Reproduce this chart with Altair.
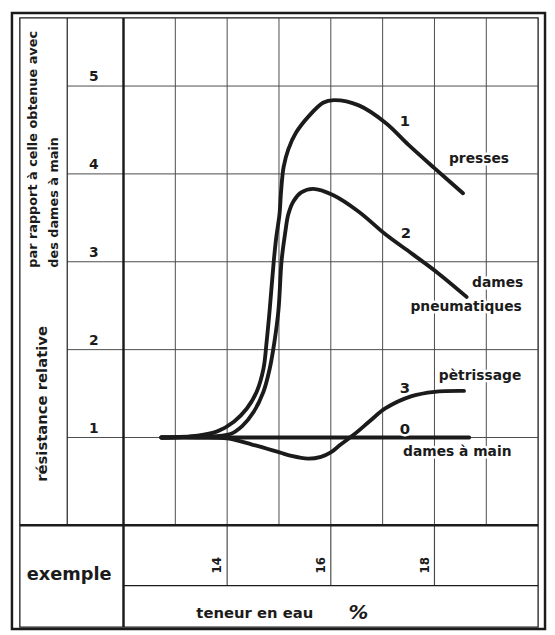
import altair as alt
import pandas as pd

# ---- data (x: teneur en eau %, y: résistance relative) ----
presses_x = [12.73, 13.43, 13.81, 14.13, 14.38, 14.57, 14.70, 14.76, 14.82, 14.90, 14.95, 15.01,
             15.04, 15.09, 15.18, 15.33, 15.58, 15.85, 16.06, 16.54, 17.06, 17.50, 18.01, 18.55]
presses_y = [1.0, 1.02, 1.07, 1.18, 1.33, 1.52, 1.78, 2.08, 2.45, 3.01, 3.29, 3.54,
             3.80, 4.08, 4.28, 4.47, 4.66, 4.81, 4.84, 4.78, 4.58, 4.33, 4.06, 3.78]

pneum_x = [12.73, 13.50, 14.06, 14.29, 14.51, 14.70, 14.82, 14.91, 14.99, 15.05, 15.12,
           15.18, 15.28, 15.43, 15.66, 16.04, 16.54, 17.06, 17.57, 18.07, 18.62]
pneum_y = [1.0, 1.01, 1.04, 1.13, 1.29, 1.52, 1.78, 2.08, 2.45, 3.01, 3.33,
           3.54, 3.69, 3.79, 3.83, 3.76, 3.57, 3.31, 3.09, 2.87, 2.60]

petr_x = [12.73, 13.43, 14.0, 14.48, 15.01, 15.24, 15.56, 15.81, 16.0, 16.19, 16.44, 16.76,
          17.05, 17.56, 18.0, 18.57]
petr_y = [1.0, 1.0, 0.99, 0.92, 0.83, 0.79, 0.76, 0.78, 0.83, 0.92, 1.03, 1.19,
          1.33, 1.47, 1.52, 1.53]

main_x = [12.73, 18.67]
main_y = [1.0, 1.0]

grid_x = [13, 14, 15, 16, 17, 18, 19]
tick_x = [14, 16, 18]
grid_y = [1, 2, 3, 4, 5]

num_text = ["1", "2", "3", "0"]
num_x = [17.43, 17.45, 17.43, 17.43]
num_y = [4.60, 3.33, 1.56, 1.10]

word_text = ["presses", "dames", "pneumatiques", "pètrissage", "dames à main"]
word_x = [18.86, 19.22, 18.61, 18.88, 18.44]
word_y = [4.17, 2.76, 2.48, 1.70, 0.83]

# ---- layout / style ----
W, H = 420, 514
FONT = "DejaVu Sans"
INK = "#1b1b1b"
GRID = "#4a4a4a"

xs = alt.Scale(domain=[12, 20], nice=False, zero=False)
ys = alt.Scale(domain=[0, 5.775], nice=False, zero=True)

rows = []
for name, xv, yv in [("presses", presses_x, presses_y), ("pneumatiques", pneum_x, pneum_y),
                     ("petrissage", petr_x, petr_y), ("main", main_x, main_y)]:
    for i, (a, b) in enumerate(zip(xv, yv)):
        rows.append({"courbe": name, "x": a, "y": b, "i": i})
curves_df = pd.DataFrame(rows)

one = alt.Data(values=[{"k": 1}])
X = lambda: alt.X("x:Q", scale=xs, axis=None)
Y = lambda: alt.Y("y:Q", scale=ys, axis=None)


def box(x1, x2, y1, y2, sw):
    return alt.Chart(one).mark_rect(fillOpacity=0, stroke=INK, strokeWidth=sw).encode(
        x=alt.value(x1), x2=alt.value(x2), y=alt.value(y1), y2=alt.value(y2))


def hline(x1, x2, y, sw, color=INK):
    return alt.Chart(one).mark_rule(color=color, strokeWidth=sw).encode(
        x=alt.value(x1), x2=alt.value(x2), y=alt.value(y))


def vline(x, y1, y2, sw, color=INK):
    return alt.Chart(one).mark_rule(color=color, strokeWidth=sw).encode(
        x=alt.value(x), y=alt.value(y1), y2=alt.value(y2))


def label(text, x, y, size, angle=0, align="center", baseline="middle", style="normal"):
    return alt.Chart(alt.Data(values=[{"t": text}])).mark_text(
        font=FONT, fontSize=size, fontWeight="bold", fontStyle=style, color=INK,
        angle=angle, align=align, baseline=baseline).encode(
        x=alt.value(x), y=alt.value(y), text="t:N")


vgrid = alt.Chart(pd.DataFrame({"x": grid_x})).mark_rule(color=GRID, strokeWidth=1).encode(
    x=X(), y=alt.value(0), y2=alt.value(H))
vext = alt.Chart(pd.DataFrame({"x": tick_x})).mark_rule(color=GRID, strokeWidth=1.2).encode(
    x=X(), y=alt.value(H), y2=alt.value(575))
hgrid = alt.Chart(pd.DataFrame({"y": grid_y})).mark_rule(color=GRID, strokeWidth=1).encode(
    y=Y(), x=alt.value(-57), x2=alt.value(W))

# tick labels (positioned through the scales)
ytick_labels = alt.Chart(pd.DataFrame({"y": grid_y})).mark_text(
    font=FONT, fontSize=14, fontWeight="bold", color=INK, align="center", baseline="middle", dy=-9).encode(
    y=Y(), x=alt.value(-30), text="y:Q")
xtick_labels = alt.Chart(pd.DataFrame({"x": tick_x})).mark_text(
    font=FONT, fontSize=12, fontWeight="bold", color=INK, angle=270, align="right",
    baseline="middle", dy=-10).encode(
    x=X(), y=alt.value(546), text="x:Q")

curves = alt.Chart(curves_df).mark_line(interpolate="catmull-rom", strokeWidth=3.9, color=INK,
                                        strokeCap="round", strokeJoin="round").encode(
    x=X(), y=Y(), detail="courbe:N", order="i:Q")

num_df = pd.DataFrame({"x": num_x, "y": num_y, "t": num_text})
word_df = pd.DataFrame({"x": word_x, "y": word_y, "t": word_text})


def curve_labels(df, size):
    halo = alt.Chart(df).mark_text(font=FONT, fontSize=size, fontWeight="bold", color="white",
                                   stroke="white", strokeWidth=5, strokeJoin="round").encode(
        x=X(), y=Y(), text="t:N")
    ink = alt.Chart(df).mark_text(font=FONT, fontSize=size, fontWeight="bold", color=INK).encode(
        x=X(), y=Y(), text="t:N")
    return [halo, ink]


layers = [
    box(-113, 427, -5, 619, 2.5),
    box(-105, W, 0, 617, 1.3),
    vgrid, vext, hgrid,
    vline(-57, 0, H, 1.2),
    vline(0, 0, 617, 2.5),
    hline(-105, W, H, 2.5),
    hline(0, W, 575, 1.3),
    curves,
    *curve_labels(num_df, 15),
    *curve_labels(word_df, 14),
    ytick_labels, xtick_labels,
    label("par rapport à celle obtenue avec", -92, 253, 13, angle=270, align="left"),
    label("des dames à main", -70, 253, 13, angle=270, align="left"),
    label("résistance relative", -82, 391, 15, angle=270),
    label("exemple", -55, 569, 18, baseline="alphabetic"),
    label("teneur en eau", 133, 603, 15),
    label("%", 238, 603, 20, style="italic"),
]

chart = alt.layer(*layers).properties(
    width=W, height=H,
    padding={"left": 117, "top": 6, "right": 9, "bottom": 107},
    autosize=alt.AutoSizeParams(type="none"),
    background="white",
).configure_view(strokeOpacity=0)

chart.save("out.html", embed_options={"renderer": "svg", "actions": False})
